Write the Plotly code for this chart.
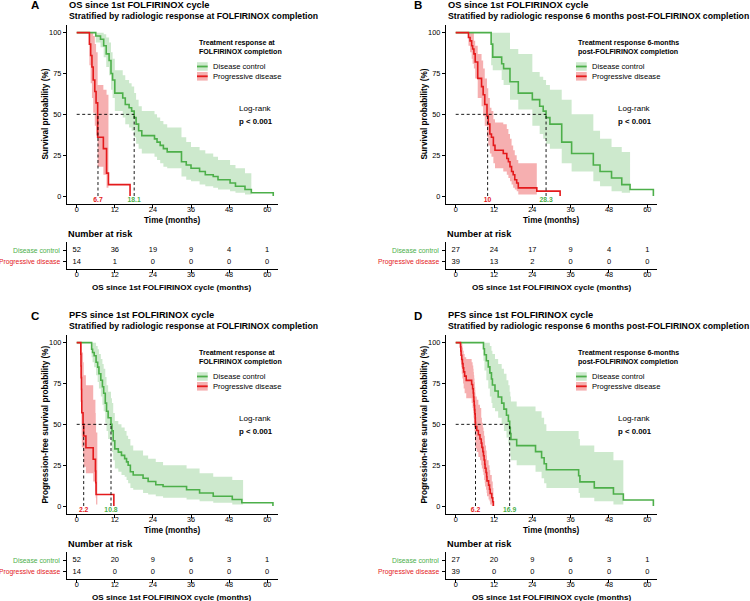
import plotly.graph_objects as go

FONT = "Liberation Sans, Arial, sans-serif"
GREEN = "#4DAF4A"
RED = "#E41A1C"
GREEN_FILL = "rgba(77,175,74,0.28)"
RED_FILL = "rgba(228,26,28,0.35)"

X_TICKS = [0, 12, 24, 36, 48, 60]
Y_TICKS = [0, 25, 50, 75, 100]
GROUPS = ["Disease control", "Progressive disease"]

PANEL_LETTERS = ["A", "B", "C", "D"]
PANEL_TITLES = ["OS since 1st FOLFIRINOX cycle", "OS since 1st FOLFIRINOX cycle",
                "PFS since 1st FOLFIRINOX cycle", "PFS since 1st FOLFIRINOX cycle"]
PANEL_SUBTITLES = ["Stratified by radiologic response at FOLFIRINOX completion",
                   "Stratified by radiologic response 6 months post-FOLFIRINOX completion",
                   "Stratified by radiologic response at FOLFIRINOX completion",
                   "Stratified by radiologic response 6 months post-FOLFIRINOX completion"]
LEGEND_TITLES = [["Treatment response at", "FOLFIRINOX completion"],
                 ["Treatment response 6-months", "post-FOLFIRINOX completion"],
                 ["Treatment response at", "FOLFIRINOX completion"],
                 ["Treatment response 6-months", "post-FOLFIRINOX completion"]]
Y_TITLES = ["Survival probability (%)", "Survival probability (%)",
            "Progression-free survival probability (%)", "Progression-free survival probability (%)"]
X_TITLE = "Time (months)"
RISK_TITLE = "Number at risk"
RISK_X_TITLE = "OS since 1st FOLFIRINOX cycle (months)"
TEST_NAME = "Log-rank"
P_TEXT = "p < 0.001"

# ---------- Panel A (OS, response at completion) ----------
A_DC_T = [0, 6.0, 7.5, 8.5, 9.3, 10.2, 10.8, 11.3, 12.0, 14.5, 15.3, 16.5, 17.3, 18.1, 18.7, 19.5, 20.5,
          24.5, 25.3, 26.3, 27.3, 28.5, 33.0, 34.5, 36.0, 38.7, 40.5, 43.0, 44.5, 48.3, 50.0, 53.0, 55.0, 61.9]
A_DC_S = [100, 98, 96, 92, 87, 83, 75, 71, 63, 60, 56, 54, 52, 48, 44, 40, 37,
          35, 33, 31, 29, 27, 21, 19, 17, 15, 13, 12, 10, 8, 6, 4, 2, 0]
A_DC_LO = [100, 94, 91, 85, 79, 74, 65, 60, 52, 48, 44, 42, 40, 36, 32, 29, 26,
           24, 22, 20, 18, 17, 12, 10, 9, 7, 6, 5, 4, 3, 2, 1]
A_DC_HI = [100, 100, 100, 99, 97, 94, 88, 84, 77, 74, 71, 69, 67, 63, 59, 55, 52,
           50, 48, 46, 44, 42, 36, 33, 30, 28, 26, 24, 22, 19, 17, 14]
A_DC_BAND_END = 55.0
A_PD_T = [0, 4.0, 4.4, 4.8, 5.2, 5.7, 6.1, 6.6, 8.4, 9.4, 10.0, 16.8]
A_PD_S = [100, 93, 86, 79, 71, 64, 57, 36, 29, 14, 7, 0]
A_PD_LO = [100, 80, 69, 60, 51, 43, 37, 18, 13, 5]
A_PD_HI = [100, 100, 100, 100, 98, 93, 88, 68, 65, 62]
A_PD_BAND_END = 10.0
A_MEDIANS = [18.1, 6.7]
A_RISK_DC = [52, 36, 19, 9, 4, 1]
A_RISK_PD = [14, 1, 0, 0, 0, 0]

# ---------- Panel B (OS, response 6 months post-completion) ----------
B_DC_T = [0, 11.1, 11.6, 14.4, 15.0, 17.0, 19.6, 24.0, 26.3, 27.4, 28.3, 29.5, 33.2, 36.3, 43.1, 45.2,
          48.8, 52.0, 54.6, 61.9]
B_DC_S = [100, 93, 85, 81, 78, 70, 63, 59, 55, 52, 48, 44, 33, 26, 19, 15, 11, 7, 4, 0]
B_DC_LO = [100, 80, 77, 71, 68, 59, 53, 43, 38, 35, 32, 29, 20, 15, 9, 6, 3, 2]
B_DC_HI = [100, 100, 100, 100, 100, 90, 87, 76, 73, 71, 68, 65, 59, 50, 40, 35, 30, 27]
B_DC_BAND_END = 54.6
B_PD_T = [0, 4.0, 4.5, 5.0, 5.3, 5.7, 6.1, 6.9, 8.1, 8.6, 9.1, 9.8, 10.2, 10.7, 11.2, 11.8, 12.3,
          14.9, 16.0, 16.5, 17.0, 17.5, 18.0, 18.5, 19.1, 19.6, 25.4, 32.7]
B_PD_S = [100, 97, 95, 92, 90, 87, 82, 72, 67, 62, 56, 49, 44, 38, 36, 31, 28,
          26, 23, 21, 18, 15, 13, 10, 8, 5, 3, 0]
B_PD_LO = [100, 92, 88, 84, 81, 78, 72, 60, 55, 49, 43, 36, 31, 26, 24, 20, 17,
           15, 13, 11, 9, 7, 5, 4, 3, 1]
B_PD_HI = [100, 100, 100, 100, 100, 95, 92, 87, 83, 78, 72, 66, 60, 54, 52, 47, 45,
           44, 41, 38, 35, 31, 28, 25, 22, 20]
B_PD_BAND_END = 25.4
B_MEDIANS = [28.3, 10]
B_RISK_DC = [27, 24, 17, 9, 4, 1]
B_RISK_PD = [39, 13, 2, 0, 0, 0]

# ---------- Panel C (PFS, response at completion) ----------
C_DC_T = [0, 4.7, 5.0, 5.5, 6.1, 6.6, 7.0, 7.6, 8.1, 8.5, 9.0, 9.4, 9.9, 10.8, 11.1, 11.5, 12.0,
          13.1, 14.1, 15.1, 15.7, 16.2, 16.9, 17.8, 20.9, 22.5, 24.9, 27.2, 34.6, 38.7, 43.0, 49.0, 52.0, 61.8]
C_DC_S = [100, 96, 94, 92, 88, 85, 81, 77, 73, 69, 63, 58, 54, 50, 46, 40, 35,
          33, 31, 29, 27, 25, 21, 19, 17, 15, 13, 12, 10, 8, 6, 4, 2, 0]
C_DC_LO = [100, 91, 88, 85, 80, 76, 72, 67, 62, 58, 51, 46, 41, 37, 33, 28, 23,
           21, 19, 18, 16, 14, 11, 10, 8, 7, 6, 5, 4, 3, 2, 1]
C_DC_HI = [100, 100, 100, 100, 98, 96, 93, 90, 87, 84, 79, 74, 70, 66, 63, 57, 52,
           50, 48, 46, 43, 41, 37, 34, 31, 29, 27, 25, 23, 20, 18, 16]
C_DC_BAND_END = 52.4
C_PD_T = [0, 1.3, 1.35, 1.4, 1.5, 1.55, 1.6, 2.0, 2.2, 2.9, 5.2, 5.9, 6.0, 6.1, 11.7]
C_PD_S = [100, 92.9, 85.7, 78.6, 71.4, 64.3, 57.1, 50.0, 42.9, 35.7, 28.6, 21.4, 14.3, 7.1, 0]
C_PD_LO = [100, 80, 69, 59, 50, 43, 36, 30, 24, 20, 15, 9, 5, 1]
C_PD_HI = [100, 100, 100, 100, 100, 98, 94, 88, 80, 74, 65, 57, 50, 45]
C_PD_BAND_END = 6.5
C_MEDIANS = [10.8, 2.2]
C_RISK_DC = [52, 20, 9, 6, 3, 1]
C_RISK_PD = [14, 0, 0, 0, 0, 0]

# ---------- Panel D (PFS, response 6 months post-completion) ----------
D_DC_T = [0, 8.7, 9.0, 9.6, 10.2, 10.7, 11.2, 11.5, 12.3, 13.3, 14.4, 15.1, 15.9, 16.5, 16.9, 17.1, 17.3,
          19.1, 25.0, 26.9, 27.7, 28.4, 38.5, 38.9, 43.4, 49.4, 52.5, 61.9]
D_DC_S = [100, 96.3, 92.6, 88.9, 85.2, 81.5, 77.8, 74.1, 70.4, 66.7, 63.0, 59.3, 55.6, 51.9, 48.1, 44.4, 40.7,
          37.0, 33.3, 29.6, 25.9, 22.2, 18.5, 14.8, 11.1, 7.4, 3.7, 0]
D_DC_LO = [100, 89, 83, 77, 72, 67, 63, 60, 58, 54, 50, 46, 42, 38, 34, 31, 28,
           25, 21, 17, 14, 11, 8, 5, 3, 1]
D_DC_HI = [100, 100, 100, 100, 100, 98, 95, 93, 90, 87, 84, 81, 77, 74, 70, 67, 64,
           61, 58, 54, 50, 46, 41, 37, 33, 28]
D_DC_BAND_END = 52.5
D_PD_T = [0, 1.5, 1.6, 1.7, 1.9, 2.1, 2.3, 2.5, 2.8, 3.3, 5.0, 5.3, 5.5, 5.6, 5.7, 5.8, 5.9, 6.0, 6.1, 6.15,
          6.2, 6.6, 7.1, 7.6, 8.0, 8.2, 8.5, 8.7, 8.9, 9.1, 9.2, 9.5, 9.7, 9.8, 10.3, 10.6, 10.8, 11.3, 11.6, 11.8]
D_PD_S = [100, 97.4, 94.9, 92.3, 89.7, 87.2, 84.6, 82.1, 79.5, 76.9, 74.4, 71.8, 69.2, 66.7, 64.1, 61.5,
          59.0, 56.4, 53.8, 51.3, 48.7, 46.2, 43.6, 41.0, 38.5, 35.9, 33.3, 30.8, 28.2, 25.6, 23.1, 20.5,
          17.9, 15.4, 12.8, 10.3, 7.7, 5.1, 2.6, 0]
D_PD_LO = [100, 92, 88, 85, 81, 78, 75, 72, 69, 66, 63, 60, 57, 54, 51, 48, 46, 43, 40, 38, 35,
           33, 30, 28, 25, 23, 21, 19, 16, 14, 12, 10, 8, 6, 4, 3, 1, 0, 0]
D_PD_HI = [100, 100, 100, 100, 99, 97, 95, 93, 91, 90, 88, 86, 84, 82, 80, 78, 76, 73, 71, 69, 67,
           65, 62, 60, 54, 51, 48, 46, 43, 40, 37, 34, 31, 28, 25, 22, 19, 15, 11]
D_PD_BAND_END = 11.8
D_MEDIANS = [16.9, 6.2]
D_RISK_DC = [27, 20, 9, 6, 3, 1]
D_RISK_PD = [39, 0, 0, 0, 0, 0]

PANELS = [
    ((A_DC_T, A_DC_S, A_DC_LO, A_DC_HI, A_DC_BAND_END), (A_PD_T, A_PD_S, A_PD_LO, A_PD_HI, A_PD_BAND_END),
     A_MEDIANS, A_RISK_DC, A_RISK_PD),
    ((B_DC_T, B_DC_S, B_DC_LO, B_DC_HI, B_DC_BAND_END), (B_PD_T, B_PD_S, B_PD_LO, B_PD_HI, B_PD_BAND_END),
     B_MEDIANS, B_RISK_DC, B_RISK_PD),
    ((C_DC_T, C_DC_S, C_DC_LO, C_DC_HI, C_DC_BAND_END), (C_PD_T, C_PD_S, C_PD_LO, C_PD_HI, C_PD_BAND_END),
     C_MEDIANS, C_RISK_DC, C_RISK_PD),
    ((D_DC_T, D_DC_S, D_DC_LO, D_DC_HI, D_DC_BAND_END), (D_PD_T, D_PD_S, D_PD_LO, D_PD_HI, D_PD_BAND_END),
     D_MEDIANS, D_RISK_DC, D_RISK_PD),
]

# ---------- geometry (pixels) ----------
W, H = 750, 601


def fx(px):
    return px / W


def fy(py):
    return 1 - py / H


COLS = [dict(x0=66.7, x1=277.7, r0=-3.15, r1=63.3, letter_x=35.0),
        dict(x0=445.7, x1=657.3, r0=-3.13, r1=63.13, letter_x=418.0)]
ROW_OFF = [0, 310]
RISK_ROW_Y = [0.707, 0.278]

fig = go.Figure()
layout = {}
annotations = []
shapes = []


def ann(text, x, y, size, xanchor="left", color="black", angle=0):
    annotations.append(dict(text=text, x=x, y=y, xref="paper", yref="paper", showarrow=False,
                            xanchor=xanchor, yanchor="middle", textangle=angle,
                            font=dict(family=FONT, size=size, color=color)))


def axname(i):
    return "" if i == 1 else str(i)


axis_common = dict(showline=True, linecolor="black", linewidth=0.9, ticks="outside", ticklen=3,
                   tickwidth=0.9, tickcolor="black", showgrid=False, zeroline=False,
                   tickfont=dict(family=FONT, size=7.3, color="black"), fixedrange=True)
xaxis_common = dict(axis_common, ticklabelstandoff=-5)

for p, (dc, pdg, meds, rdc, rpd) in enumerate(PANELS):
    c = COLS[p % 2]
    off = ROW_OFF[p // 2]
    ka, ra = 2 * p + 1, 2 * p + 2
    xk, yk = "x" + axname(ka), "y" + axname(ka)
    xr, yr = "x" + axname(ra), "y" + axname(ra)

    layout["xaxis" + axname(ka)] = dict(xaxis_common, domain=[fx(c["x0"]), fx(c["x1"])],
                                         range=[c["r0"], c["r1"]], anchor=yk, tickvals=X_TICKS)
    layout["yaxis" + axname(ka)] = dict(axis_common, domain=[fy(204.2 + off), fy(24.5 + off)],
                                         range=[-5, 105], anchor=xk, tickvals=Y_TICKS)
    layout["xaxis" + axname(ra)] = dict(xaxis_common, domain=[fx(c["x0"]), fx(c["x1"])],
                                         range=[c["r0"], c["r1"]], anchor=yr, tickvals=X_TICKS)
    layout["yaxis" + axname(ra)] = dict(axis_common, domain=[fy(269.3 + off), fy(242.0 + off)],
                                         range=[0, 1], anchor=xr, tickvals=RISK_ROW_Y,
                                         ticktext=["", ""])

    groups = [(dc, GREEN, GREEN_FILL), (pdg, RED, RED_FILL)]
    # confidence bands
    for (T, S, LO, HI, END), col, fill in groups:
        n = len(LO)
        bx = list(T[:n]) + [END]
        fig.add_trace(go.Scatter(x=bx, y=list(LO) + [LO[-1]], mode="lines", line=dict(width=0, shape="hv"),
                                 xaxis=xk, yaxis=yk, showlegend=False, hoverinfo="skip"))
        fig.add_trace(go.Scatter(x=bx, y=list(HI) + [HI[-1]], mode="lines", line=dict(width=0, shape="hv"),
                                 fill="tonexty", fillcolor=fill, xaxis=xk, yaxis=yk, showlegend=False,
                                 hoverinfo="skip"))
    # survival curves
    for gi, ((T, S, LO, HI, END), col, fill) in enumerate(groups):
        fig.add_trace(go.Scatter(x=T, y=S, mode="lines", line=dict(color=col, width=1.6, shape="hv"),
                                 xaxis=xk, yaxis=yk, showlegend=False, name=GROUPS[gi]))
    # median lines
    mx = [0, max(meds)]
    my = [50, 50]
    for m in meds:
        mx += [None, m, m]
        my += [None, 0, 50]
    fig.add_trace(go.Scatter(x=mx, y=my, mode="lines", line=dict(color="black", width=0.9, dash="3px,2.5px"),
                             xaxis=xk, yaxis=yk, showlegend=False, hoverinfo="skip"))
    fig.add_trace(go.Scatter(x=meds, y=[-2.6, -2.6], mode="text",
                             text=["<b>%g</b>" % m for m in meds],
                             textfont=dict(family=FONT, size=6.8, color=[GREEN, RED]),
                             xaxis=xk, yaxis=yk, showlegend=False, cliponaxis=False, hoverinfo="skip"))
    # risk table numbers
    for row_y, vals in zip(RISK_ROW_Y, [rdc, rpd]):
        fig.add_trace(go.Scatter(x=X_TICKS, y=[row_y] * len(vals), mode="text", text=[str(v) for v in vals],
                                 textfont=dict(family=FONT, size=7.5, color="black"),
                                 xaxis=xr, yaxis=yr, showlegend=False, cliponaxis=False, hoverinfo="skip"))

    # text annotations
    ann("<b>%s</b>" % PANEL_LETTERS[p], fx(c["letter_x"]), fy(5.5 + off), 11.5, xanchor="center")
    ann("<b>%s</b>" % PANEL_TITLES[p], fx(c["x0"]), fy(4.8 + off), 9.3)
    ann("<b>%s</b>" % PANEL_SUBTITLES[p], fx(c["x0"]), fy(15.8 + off), 8.7)
    ann("<b>%s</b>" % Y_TITLES[p], fx(c["x0"] - 21.5), fy(114.4 + off), 8.2, xanchor="center", angle=-90)
    mid = (c["x0"] + c["x1"]) / 2
    ann("<b>%s</b>" % X_TITLE, fx(mid), fy(220.5 + off), 8.2, xanchor="center")
    ann("<b>%s</b>" % LEGEND_TITLES[p][0], fx(c["x0"] + 130.5), fy(42.8 + off), 7.1)
    ann("<b>%s</b>" % LEGEND_TITLES[p][1], fx(c["x0"] + 130.5), fy(52.4 + off), 7.1)
    for gi, (col, fill) in enumerate([(GREEN, GREEN_FILL), (RED, RED_FILL)]):
        yc = 66.5 + 9.8 * gi + off
        shapes.append(dict(type="rect", xref="paper", yref="paper", x0=fx(c["x0"] + 130.3),
                           x1=fx(c["x0"] + 141.0), y0=fy(yc + 4.3), y1=fy(yc - 4.3),
                           fillcolor=fill, line=dict(width=0)))
        shapes.append(dict(type="line", xref="paper", yref="paper", x0=fx(c["x0"] + 130.3),
                           x1=fx(c["x0"] + 141.0), y0=fy(yc), y1=fy(yc), line=dict(color=col, width=1.8)))
        ann(GROUPS[gi], fx(c["x0"] + 144.3), fy(yc), 7.6)
    ann(TEST_NAME, fx(c["x0"] + 170.0), fy(108.5 + off), 8.0)
    ann("<b>%s</b>" % P_TEXT, fx(c["x0"] + 170.0), fy(121.2 + off), 7.8)
    ann("<b>%s</b>" % RISK_TITLE, fx(c["x0"] - 0.5), fy(233.5 + off), 9.2)
    ann("<b>%s</b>" % RISK_X_TITLE, fx(mid), fy(287.0 + off), 8.1, xanchor="center")
    for gi, (col, py) in enumerate([(GREEN, 250.0), (RED, 261.7)]):
        ann(GROUPS[gi], fx(c["x0"] - 4.3), fy(py + off), 6.8, xanchor="right", color=col)

fig.update_layout(width=W, height=H, margin=dict(l=0, r=0, t=0, b=0), paper_bgcolor="white",
                  plot_bgcolor="white", showlegend=False, annotations=annotations, shapes=shapes,
                  font=dict(family=FONT, color="black"), **layout)

fig.write_html("out.html")
